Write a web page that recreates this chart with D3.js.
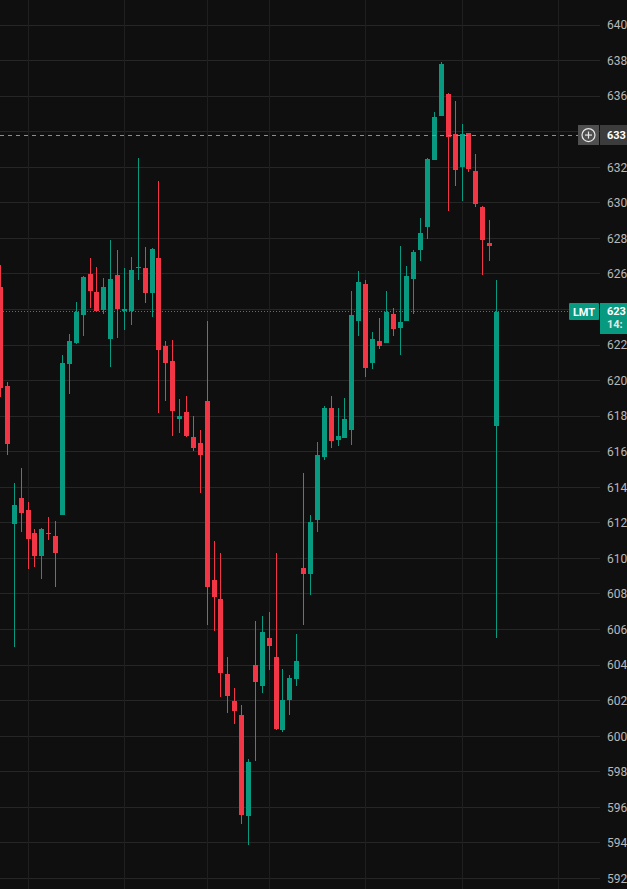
<!DOCTYPE html>
<html><head><meta charset="utf-8">
<script src="https://cdn.jsdelivr.net/npm/d3@7"></script>
<style>html,body{margin:0;padding:0;background:#0f0f0f;overflow:hidden}</style>
</head><body><div id="chart"></div>
<script>
// ---- data ----
const opens  = [625.27,619.71,611.97,613.41,612.74,611.45,610.17,611.40,611.27,612.47,
                620.96,622.14,623.72,626.00,624.99,624.00,622.37,625.95,623.88,623.94,
                626.34,626.34,624.90,626.90,621.96,621.10,617.86,618.25,616.84,616.51,
                618.87,608.76,607.74,603.52,601.99,601.20,595.56,604.02,602.86,605.50,
                604.47,600.35,602.08,603.21,609.48,609.16,612.15,615.72,618.47,616.67,
                616.78,617.23,623.36,625.44,621.00,622.24,622.13,623.75,622.97,623.36,
                625.73,627.34,628.63,632.42,634.90,636.12,633.86,632.01,633.93,631.80,
                629.78,627.75,617.45];
const highs  = [626.51,619.90,614.25,615.10,613.19,611.67,611.70,612.34,612.12,621.43,
                622.63,624.43,625.89,626.90,626.40,625.78,627.91,627.35,626.34,626.96,
                632.52,627.52,627.46,631.24,622.21,622.26,618.98,619.15,618.02,617.23,
                623.36,610.97,610.30,604.47,602.69,601.73,598.70,606.45,606.78,607.00,
                610.30,603.79,603.46,605.77,614.81,612.45,616.56,618.58,619.15,618.47,
                619.03,625.05,626.17,625.67,622.74,623.53,625.05,624.09,627.58,626.46,
                627.34,629.15,632.53,635.11,637.93,636.15,635.73,634.44,633.95,632.74,
                629.80,629.04,625.67];
const lows   = [619.05,615.79,605.04,611.46,609.38,609.50,608.82,611.01,608.37,612.45,
                619.27,622.03,622.48,624.11,623.87,623.72,620.79,622.42,622.82,623.10,
                625.68,624.39,623.60,618.17,618.85,616.86,617.04,616.81,616.04,613.65,
                606.25,605.90,602.18,601.30,600.68,595.05,593.88,598.60,602.41,603.72,
                600.33,600.22,601.18,602.81,606.25,607.96,611.47,615.55,616.18,616.33,
                616.75,616.39,622.52,620.21,620.66,621.79,622.10,622.52,621.45,623.33,
                623.76,626.74,627.97,632.40,634.88,629.54,630.96,630.10,631.73,629.78,
                625.95,626.74,605.53];
const closes = [619.61,616.46,613.02,612.59,611.13,610.17,611.67,611.33,610.34,621.00,
                622.24,623.87,625.83,625.06,623.90,625.27,625.72,624.05,624.00,626.23,
                626.40,624.95,627.40,621.71,621.03,618.27,618.02,616.91,616.23,615.81,
                608.43,607.80,603.59,602.26,601.40,595.56,598.57,603.09,605.87,605.07,
                600.40,602.06,603.29,604.24,609.16,612.07,615.83,618.47,616.63,616.90,
                617.85,623.70,625.55,620.72,622.35,621.96,623.87,622.91,623.31,625.88,
                627.24,628.31,632.47,634.83,637.80,633.71,631.84,633.86,631.91,629.95,
                627.90,627.60,623.87];
const barIndex = opens.map((d, i) => i);
const priceTicks = [592,594,596,598,600,602,604,606,608,610,612,614,616,618,620,
                    622,624,626,628,630,632,634,636,638,640];
const timeGridBars = [4, 18, 30, 39, 53, 67, 81];
const lastPrice = 623.87;
const crosshairPrice = 633.81;
const symbolText = "LMT";
const lastPriceText = "623";
const countdownText = "14:";
const crosshairText = "633";

// ---- drawing ----
const W = 627, H = 889;
const UP = "#089981", DOWN = "#f23645";
const FONT = "Roboto, 'Liberation Sans', sans-serif";
const plotRight = 600;

const svg = d3.select("#chart").append("svg")
  .attr("width", W).attr("height", H)
  .style("display", "block");
svg.append("rect").attr("width", W).attr("height", H).attr("fill", "#0f0f0f");

const x = d3.scaleLinear().domain([0, 72]).range([0.5, 496.5]);
const y = d3.scaleLinear().domain([592, 640]).range([878.4, 25]);
const px = v => Math.floor(v) + 0.5;

// grid
const grid = svg.append("g").attr("shape-rendering", "crispEdges");
grid.selectAll("line.h").data(priceTicks).join("line")
  .attr("class", "h")
  .attr("x1", 0).attr("x2", plotRight)
  .attr("y1", d => px(y(d))).attr("y2", d => px(y(d)))
  .attr("stroke", "#262626").attr("stroke-width", 1);
grid.selectAll("line.v").data(timeGridBars).join("line")
  .attr("class", "v")
  .attr("x1", d => px(x(d))).attr("x2", d => px(x(d)))
  .attr("y1", 0).attr("y2", H)
  .attr("stroke", "#1f1f1f").attr("stroke-width", 1);

// candles
const candles = svg.append("g").attr("shape-rendering", "crispEdges");
const g = candles.selectAll("g").data(barIndex).join("g");
const col = i => closes[i] >= opens[i] ? UP : DOWN;
g.append("line")
  .attr("x1", i => px(x(i))).attr("x2", i => px(x(i)))
  .attr("y1", i => y(highs[i])).attr("y2", i => y(lows[i]))
  .attr("stroke", col).attr("stroke-width", 1);
g.append("rect")
  .attr("x", i => px(x(i)) - 2.5)
  .attr("width", 5)
  .attr("y", i => Math.round(y(Math.max(opens[i], closes[i]))))
  .attr("height", i => Math.max(1, Math.round(Math.abs(y(opens[i]) - y(closes[i])))))
  .attr("fill", col);

// last price dotted line
svg.append("line")
  .attr("x1", 0).attr("x2", 569)
  .attr("y1", px(y(lastPrice))).attr("y2", px(y(lastPrice)))
  .attr("stroke", UP).attr("stroke-width", 1)
  .attr("stroke-dasharray", "1,2");

// crosshair dashed line
svg.append("line")
  .attr("x1", 0).attr("x2", 578)
  .attr("y1", px(y(crosshairPrice))).attr("y2", px(y(crosshairPrice)))
  .attr("stroke", "#8e8e8e").attr("stroke-width", 1)
  .attr("stroke-dasharray", "4,4");

// price axis labels (skip the ones hidden by the boxes)
const hidden = d => Math.abs(y(d) - y(crosshairPrice)) < 12 || Math.abs(y(d) - y(lastPrice)) < 16;
const axis = d3.axisRight(y).tickValues(priceTicks.filter(d => !hidden(d)))
  .tickSize(0).tickPadding(0).tickFormat(d3.format("d"));
const axG = svg.append("g").attr("transform", "translate(607,0)").call(axis);
axG.select(".domain").remove();
axG.selectAll("text")
  .attr("fill", "#b8b8b8")
  .style("font-family", FONT).style("font-size", "12px");

// crosshair label with plus button
const cy = y(crosshairPrice);
svg.append("rect").attr("x", 578).attr("y", Math.round(cy - 10)).attr("width", 21).attr("height", 20)
  .attr("fill", "#4f4f4f");
svg.append("rect").attr("x", 600).attr("y", Math.round(cy - 10)).attr("width", 27).attr("height", 20)
  .attr("fill", "#3c3c3c");
svg.append("circle").attr("cx", 588.5).attr("cy", cy).attr("r", 6.5)
  .attr("fill", "none").attr("stroke", "#e8e8e8").attr("stroke-width", 1.2);
svg.append("line").attr("x1", 585).attr("x2", 592).attr("y1", cy).attr("y2", cy)
  .attr("stroke", "#e8e8e8").attr("stroke-width", 1.2);
svg.append("line").attr("x1", 588.5).attr("x2", 588.5).attr("y1", cy - 3.5).attr("y2", cy + 3.5)
  .attr("stroke", "#e8e8e8").attr("stroke-width", 1.2);
svg.append("text").attr("x", 607).attr("y", cy).attr("dy", "0.36em")
  .attr("fill", "#ffffff").style("font-family", FONT).style("font-size", "11px")
  .style("font-weight", "bold").text(crosshairText);

// last price label
const ly = y(lastPrice);
svg.append("rect").attr("x", 569).attr("y", Math.round(ly - 9)).attr("width", 30).attr("height", 17)
  .attr("fill", UP).attr("rx", 1);
svg.append("text").attr("x", 584).attr("y", ly).attr("dy", "0.36em")
  .attr("text-anchor", "middle").attr("fill", "#ffffff")
  .style("font-family", FONT).style("font-size", "11px").style("font-weight", "bold")
  .text(symbolText);
svg.append("rect").attr("x", 600).attr("y", Math.round(ly - 9)).attr("width", 27).attr("height", 31)
  .attr("fill", UP);
svg.append("text").attr("x", 607).attr("y", ly - 0.5).attr("dy", "0.36em")
  .attr("fill", "#ffffff").style("font-family", FONT).style("font-size", "11px")
  .style("font-weight", "bold").text(lastPriceText);
svg.append("text").attr("x", 607).attr("y", ly + 12).attr("dy", "0.36em")
  .attr("fill", "#e6e6e6").style("font-family", FONT).style("font-size", "11px")
  .style("font-weight", "bold").text(countdownText);
</script>
</body></html>
